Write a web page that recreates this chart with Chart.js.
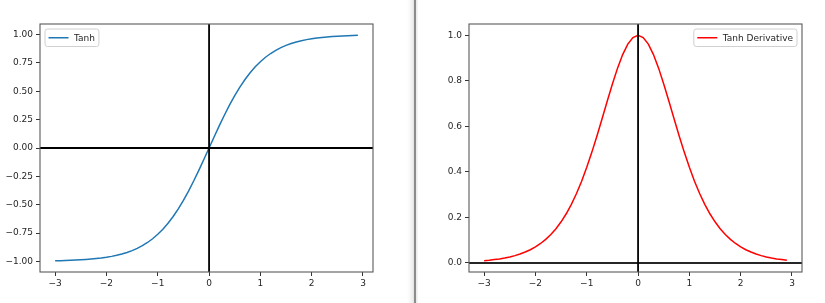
<!DOCTYPE html>
<html>
<head>
<meta charset="utf-8">
<script src="https://cdn.jsdelivr.net/npm/chart.js@4.4.1/dist/chart.umd.min.js"></script>
<style>
    html, body { margin: 0; padding: 0; background: #fff; }
    #wrap { position: relative; width: 825px; height: 303px; overflow: hidden; }
    #left { position: absolute; left: 0; top: 0; }
    #right { position: absolute; left: 418px; top: 0; }
    #divider {
        position: absolute; left: 407px; top: 0; width: 11px; height: 303px;
        background: linear-gradient(to right, #ffffff 0px, #f1f1f1 5px, #e2e2e2 7px, #8c8c8c 7.5px, #8c8c8c 9px, #ececec 9.5px, #f7f7f7 11px);
    }
</style>
</head>
<body>
<div id="wrap">
    <canvas id="left" width="410" height="303"></canvas>
    <div id="divider"></div>
    <canvas id="right" width="407" height="303"></canvas>
</div>
<script>
// x samples: -3.0 .. 2.9 in steps of 0.1
const xValues = [
    -3.0, -2.9, -2.8, -2.7, -2.6, -2.5, -2.4, -2.3, -2.2, -2.1,
    -2.0, -1.9, -1.8, -1.7, -1.6, -1.5, -1.4, -1.3, -1.2, -1.1,
    -1.0, -0.9, -0.8, -0.7, -0.6, -0.5, -0.4, -0.3, -0.2, -0.1,
    0.0, 0.1, 0.2, 0.3, 0.4, 0.5, 0.6, 0.7, 0.8, 0.9,
    1.0, 1.1, 1.2, 1.3, 1.4, 1.5, 1.6, 1.7, 1.8, 1.9,
    2.0, 2.1, 2.2, 2.3, 2.4, 2.5, 2.6, 2.7, 2.8, 2.9
];

const tanhValues = [
    -0.9951, -0.9940, -0.9926, -0.9910, -0.9890, -0.9866, -0.9837, -0.9801, -0.9757, -0.9705,
    -0.9640, -0.9562, -0.9468, -0.9354, -0.9217, -0.9051, -0.8854, -0.8617, -0.8337, -0.8005,
    -0.7616, -0.7163, -0.6640, -0.6044, -0.5370, -0.4621, -0.3799, -0.2913, -0.1974, -0.0997,
    0.0000, 0.0997, 0.1974, 0.2913, 0.3799, 0.4621, 0.5370, 0.6044, 0.6640, 0.7163,
    0.7616, 0.8005, 0.8337, 0.8617, 0.8854, 0.9051, 0.9217, 0.9354, 0.9468, 0.9562,
    0.9640, 0.9705, 0.9757, 0.9801, 0.9837, 0.9866, 0.9890, 0.9910, 0.9926, 0.9940
];

const derivValues = [
    0.0099, 0.0120, 0.0148, 0.0179, 0.0219, 0.0266, 0.0323, 0.0394, 0.0480, 0.0581,
    0.0707, 0.0857, 0.1036, 0.1250, 0.1505, 0.1808, 0.2161, 0.2575, 0.3049, 0.3592,
    0.4200, 0.4869, 0.5591, 0.6347, 0.7116, 0.7864, 0.8557, 0.9151, 0.9610, 0.9901,
    1.0000, 0.9901, 0.9610, 0.9151, 0.8557, 0.7864, 0.7116, 0.6347, 0.5591, 0.4869,
    0.4200, 0.3592, 0.3049, 0.2575, 0.2161, 0.1808, 0.1505, 0.1250, 0.1036, 0.0857,
    0.0707, 0.0581, 0.0480, 0.0394, 0.0323, 0.0266, 0.0219, 0.0179, 0.0148, 0.0120
];

const xTicks = [-3, -2, -1, 0, 1, 2, 3];
const xTickLabels = ['\u22123', '\u22122', '\u22121', '0', '1', '2', '3'];

const yTicksLeft = [-1, -0.75, -0.5, -0.25, 0, 0.25, 0.5, 0.75, 1];
const yTickLabelsLeft = ['\u22121.00', '\u22120.75', '\u22120.50', '\u22120.25', '0.00', '0.25', '0.50', '0.75', '1.00'];

const yTicksRight = [0, 0.2, 0.4, 0.6, 0.8, 1.0];
const yTickLabelsRight = ['0.0', '0.2', '0.4', '0.6', '0.8', '1.0'];

const FONT = { family: "'DejaVu Sans', sans-serif", size: 9 };
const TEXT_COLOR = '#262626';

// frame, zero lines and an in-axes legend (matplotlib style)
const axesDecor = {
    id: 'axesDecor',
    afterDatasetsDraw(chart, args, opts) {
        const { ctx, chartArea: a, scales } = chart;
        ctx.save();
        // zero lines
        const y0 = scales.y.getPixelForValue(0);
        const x0 = scales.x.getPixelForValue(0);
        ctx.lineWidth = 1.8;
        ctx.strokeStyle = opts.hColor;
        ctx.beginPath();
        ctx.moveTo(a.left, y0);
        ctx.lineTo(a.right, y0);
        ctx.stroke();
        ctx.strokeStyle = '#000';
        ctx.beginPath();
        ctx.moveTo(x0, a.top);
        ctx.lineTo(x0, a.bottom);
        ctx.stroke();
        // frame
        ctx.lineWidth = 1.1;
        ctx.strokeStyle = '#5a5a5a';
        ctx.strokeRect(a.left, a.top, a.right - a.left, a.bottom - a.top);

        // legend
        const ds = chart.data.datasets[0];
        ctx.font = `${FONT.size}px ${FONT.family}`;
        const textW = ctx.measureText(ds.label).width;
        const boxW = 3.5 + 20 + 5.5 + textW + 4;
        const boxH = 17.5;
        const bx = opts.align === 'left' ? a.left + 5 : a.right - 5 - boxW;
        const by = a.top + 5;
        ctx.fillStyle = 'rgba(255,255,255,0.8)';
        ctx.strokeStyle = '#d0d0d0';
        ctx.lineWidth = 1;
        ctx.beginPath();
        ctx.roundRect(bx, by, boxW, boxH, 2.5);
        ctx.fill();
        ctx.stroke();
        ctx.strokeStyle = ds.borderColor;
        ctx.lineWidth = 1.5;
        ctx.beginPath();
        ctx.moveTo(bx + 3.5, by + boxH / 2);
        ctx.lineTo(bx + 23.5, by + boxH / 2);
        ctx.stroke();
        ctx.fillStyle = TEXT_COLOR;
        ctx.textBaseline = 'middle';
        ctx.fillText(ds.label, bx + 29, by + boxH / 2 + 0.5);
        ctx.restore();
    }
};

function makeChart(canvasId, cfg) {
    const points = xValues.map((x, i) => ({ x: x, y: cfg.values[i] }));
    return new Chart(document.getElementById(canvasId), {
        type: 'scatter',
        data: {
            datasets: [{
                label: cfg.label,
                data: points,
                showLine: true,
                borderColor: cfg.color,
                borderWidth: 1.5,
                pointRadius: 0,
                tension: 0
            }]
        },
        options: {
            responsive: false,
            animation: false,
            events: [],
            layout: { padding: cfg.padding },
            plugins: {
                legend: { display: false },
                tooltip: { enabled: false },
                axesDecor: { align: cfg.legendAlign, hColor: cfg.hColor }
            },
            scales: {
                x: {
                    type: 'linear',
                    min: -3.295,
                    max: 3.195,
                    afterBuildTicks: s => { s.ticks = xTicks.map(v => ({ value: v })); },
                    afterFit: s => { s.height = cfg.xHeight; },
                    border: { display: false },
                    grid: { drawOnChartArea: false, drawTicks: true, tickLength: 4, color: '#333', lineWidth: 1 },
                    ticks: {
                        color: TEXT_COLOR,
                        font: FONT,
                        padding: 2,
                        maxRotation: 0,
                        autoSkip: false,
                        callback: v => xTickLabels[xTicks.indexOf(v)]
                    }
                },
                y: {
                    type: 'linear',
                    min: cfg.yMin,
                    max: cfg.yMax,
                    afterBuildTicks: s => { s.ticks = cfg.yTicks.map(v => ({ value: v })); },
                    afterFit: s => { s.width = cfg.yWidth; },
                    border: { display: false },
                    grid: { drawOnChartArea: false, drawTicks: true, tickLength: 4, color: '#333', lineWidth: 1 },
                    ticks: {
                        color: TEXT_COLOR,
                        font: FONT,
                        padding: 3,
                        autoSkip: false,
                        callback: v => cfg.yLabels[cfg.yTicks.findIndex(t => Math.abs(t - v) < 1e-9)]
                    }
                }
            }
        },
        plugins: [axesDecor]
    });
}

makeChart('left', {
    label: 'Tanh',
    values: tanhValues,
    color: '#1f77b4',
    hColor: '#000',
    legendAlign: 'left',
    yMin: -1.094,
    yMax: 1.094,
    yTicks: yTicksLeft,
    yLabels: yTickLabelsLeft,
    yWidth: 40,
    xHeight: 31,
    padding: { left: 0, top: 24, right: 37, bottom: 0 }
});

makeChart('right', {
    label: 'Tanh Derivative',
    values: derivValues,
    color: '#ff0000',
    hColor: '#262626',
    legendAlign: 'right',
    yMin: -0.0396,
    yMax: 1.0495,
    yTicks: yTicksRight,
    yLabels: yTickLabelsRight,
    yWidth: 51,
    xHeight: 31,
    padding: { left: 0, top: 24, right: 23, bottom: 0 }
});
</script>
</body>
</html>
